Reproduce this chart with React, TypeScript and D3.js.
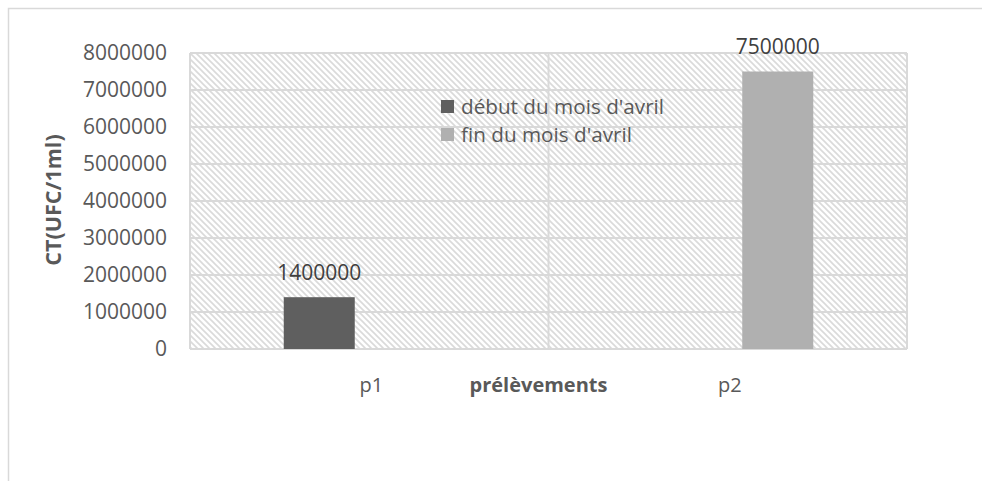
import * as d3 from 'd3';

const WIDTH = 982;
const HEIGHT = 481;
const MARGIN = { top: 53, right: 75, bottom: 132, left: 190 };

const categories = ['p1', 'p2'];
const seriesNames = ["début du mois d'avril", "fin du mois d'avril"];
const debutValues = [1400000, 0];
const finValues = [0, 7500000];
const yTicks = [0, 1000000, 2000000, 3000000, 4000000, 5000000, 6000000, 7000000, 8000000];
const seriesColors = ['#5f5f5f', '#b0b0b0'];

const FONT = '"Open Sans", sans-serif';
const TEXT = '#595959';
const GRID = '#d9d9d9';

export default function App() {
  const boundsWidth = WIDTH - MARGIN.left - MARGIN.right;
  const boundsHeight = HEIGHT - MARGIN.top - MARGIN.bottom;

  const xScale = d3.scaleBand().domain(categories).range([0, boundsWidth]).padding(0);
  const innerScale = d3
    .scaleBand()
    .domain(seriesNames)
    .range([0, xScale.bandwidth()])
    .paddingInner(0.29)
    .paddingOuter(0.9375);
  const yScale = d3.scaleLinear().domain([0, 8000000]).range([boundsHeight, 0]);

  const series = [debutValues, finValues];

  return (
    <svg width={WIDTH} height={HEIGHT} style={{ position: 'absolute', left: 0, top: 0 }}>
      <defs>
        <pattern id="hatch" patternUnits="userSpaceOnUse" width={6} height={6}>
          <rect width={6} height={6} fill="#ffffff" />
          <path d="M-1,-1 L7,7 M-1,5 L1,7 M5,-1 L7,1" stroke="#dadada" strokeWidth={1.6} />
        </pattern>
      </defs>
      <rect x={0} y={0} width={WIDTH} height={HEIGHT} fill="#ffffff" />
      {/* outer chart border, cropped on right and bottom */}
      <path d={`M8.5,${HEIGHT} L8.5,8.5 L${WIDTH},8.5`} fill="none" stroke={GRID} strokeWidth={1.5} />

      <g transform={`translate(${MARGIN.left},${MARGIN.top})`}>
        <rect x={0} y={0} width={boundsWidth} height={boundsHeight} fill="url(#hatch)" />
        {yTicks.map((t) => (
          <line key={t} x1={0} x2={boundsWidth} y1={yScale(t)} y2={yScale(t)} stroke={GRID} strokeWidth={2} />
        ))}
        <line x1={0} x2={0} y1={0} y2={boundsHeight} stroke={GRID} strokeWidth={2} />
        <line x1={boundsWidth} x2={boundsWidth} y1={0} y2={boundsHeight} stroke={GRID} strokeWidth={2} />
        <line
          x1={xScale.bandwidth()}
          x2={xScale.bandwidth()}
          y1={0}
          y2={boundsHeight}
          stroke={GRID}
          strokeWidth={2}
        />

        {yTicks.map((t) => (
          <text
            key={t}
            x={-23}
            y={yScale(t)}
            dy="0.35em"
            textAnchor="end"
            fontFamily={FONT}
            fontSize={21}
            fill={TEXT}
          >
            {t}
          </text>
        ))}

        {series.map((vals, si) =>
          vals.map((v, ci) => {
            const x = (xScale(categories[ci]) || 0) + (innerScale(seriesNames[si]) || 0);
            if (!v) return null;
            return (
              <g key={`${si}-${ci}`}>
                <rect
                  x={x}
                  y={yScale(v)}
                  width={innerScale.bandwidth()}
                  height={boundsHeight - yScale(v)}
                  fill={seriesColors[si]}
                />
                <text
                  x={x + innerScale.bandwidth() / 2}
                  y={yScale(v) - 25}
                  dy="0.35em"
                  textAnchor="middle"
                  fontFamily={FONT}
                  fontSize={21}
                  fill="#404040"
                >
                  {v}
                </text>
              </g>
            );
          })
        )}

        {categories.map((c) => (
          <text
            key={c}
            x={(xScale(c) || 0) + xScale.bandwidth() / 2 + 2}
            y={boundsHeight + 36}
            dy="0.35em"
            textAnchor="middle"
            fontFamily={FONT}
            fontSize={20}
            fill={TEXT}
          >
            {c}
          </text>
        ))}

        <text
          x={boundsWidth / 2 - 10}
          y={boundsHeight + 36}
          dy="0.35em"
          textAnchor="middle"
          fontFamily={FONT}
          fontSize={20}
          fontWeight="bold"
          fill={TEXT}
        >
          prélèvements
        </text>

        {/* legend */}
        {seriesNames.map((name, i) => (
          <g key={name} transform={`translate(${441 - MARGIN.left},${100 + i * 28 - MARGIN.top})`}>
            <rect x={0} y={0} width={13} height={13} fill={seriesColors[i]} />
            <text x={20} y={6.5} dy="0.35em" fontFamily={FONT} fontSize={20.7} fill={TEXT}>
              {name}
            </text>
          </g>
        ))}
      </g>

      <text
        transform={`translate(53,200) rotate(-90)`}
        textAnchor="middle"
        dy="0.35em"
        fontFamily={FONT}
        fontSize={21.5}
        fontWeight="bold"
        fill={TEXT}
      >
        CT(UFC/1ml)
      </text>
    </svg>
  );
}
